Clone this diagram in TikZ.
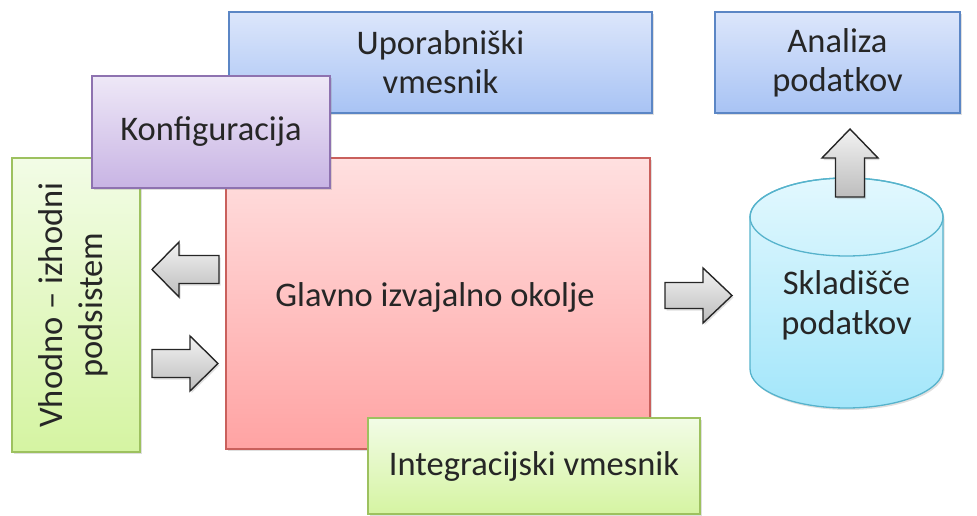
\documentclass[tikz,border=0pt]{standalone}
\usepackage{fontspec}
\setmainfont{Carlito}
\usetikzlibrary{shadows}
\definecolor{txt}{HTML}{262626}
\definecolor{blueline}{HTML}{5B86C5}
\definecolor{bluetop}{HTML}{DCE6FB}
\definecolor{bluebot}{HTML}{A8C3F4}
\definecolor{purpline}{HTML}{8E72B0}
\definecolor{purptop}{HTML}{EEE8F7}
\definecolor{purpbot}{HTML}{C8B4E4}
\definecolor{greenline}{HTML}{9DC15F}
\definecolor{greentop}{HTML}{F2FCE6}
\definecolor{greenbot}{HTML}{D5F4A2}
\definecolor{redline}{HTML}{C9605C}
\definecolor{redtop}{HTML}{FFE0E0}
\definecolor{redbot}{HTML}{FFA3A3}
\definecolor{cylline}{HTML}{56B3CC}
\definecolor{cyltop}{HTML}{E2F8FE}
\definecolor{cylbot}{HTML}{A3E6FA}
\definecolor{arrtop}{HTML}{F2F2F2}
\definecolor{arrbot}{HTML}{BDBDBD}
\begin{document}
\begin{tikzpicture}[x=1pt,y=-1pt,
  boxshadow/.style={drop shadow={opacity=0.25,shadow xshift=1.5pt,shadow yshift=-2pt}},
  box/.style={draw, line width=1.3pt, boxshadow, align=center, inner sep=0pt,
    font=\fontsize{34.5}{39}\selectfont, text=txt},
  lbl/.style={align=center, inner sep=0pt, font=\fontsize{34.5}{40}\selectfont, text=txt},
  bluebox/.style={box, draw=blueline, top color=bluetop, bottom color=bluebot},
  purpbox/.style={box, draw=purpline, top color=purptop, bottom color=purpbot},
  greenbox/.style={box, draw=greenline, top color=greentop, bottom color=greenbot},
  redbox/.style={box, draw=redline, top color=redtop, bottom color=redbot},
  blockarrow/.style={draw=black!85, line width=1.4pt, line join=miter, top color=arrtop, bottom color=arrbot,
    drop shadow={opacity=0.25,shadow xshift=1.5pt,shadow yshift=-2pt}},
  cylstyle/.style={draw=cylline, line width=1.3pt, top color=cyltop, bottom color=cylbot, boxshadow}
]
\useasboundingbox (0,0) rectangle (977,516);

% Uporabniski vmesnik
\node[bluebox, minimum width=423pt, minimum height=101pt] (ui) at (440.5,62.5) {Uporabniški\\vmesnik};

% Vhodno-izhodni podsistem
\node[greenbox, minimum width=128pt, minimum height=294pt] (io) at (76,305) {};
\node[lbl, rotate=90] (iotext) at (73,305) {Vhodno – izhodni\\podsistem};

% Glavno izvajalno okolje
\node[redbox, minimum width=424pt, minimum height=291pt] (main) at (438,303.5) {};
\node[lbl] (maintext) at (435,297) {Glavno izvajalno okolje};

% Konfiguracija
\node[purpbox, minimum width=238pt, minimum height=112pt] (cfg) at (211,132) {Konfiguracija};

% Integracijski vmesnik
\node[greenbox, minimum width=332pt, minimum height=96pt] (int) at (534,466) {Integracijski vmesnik};

% Analiza podatkov
\node[bluebox, minimum width=245pt, minimum height=101pt] (ana) at (837.5,62.5) {Analiza\\podatkov};

% Block arrows between main and io
\draw[blockarrow] (152,269.5) -- (179,242) -- (179,255.5) -- (219,255.5) -- (219,283.5) -- (179,283.5) -- (179,297) -- cycle;
\draw[blockarrow] (152,349.5) -- (190,349.5) -- (190,336) -- (218,363.5) -- (190,391) -- (190,377.5) -- (152,377.5) -- cycle;

% Arrow main -> storage
\draw[blockarrow] (665,282.5) -- (703,282.5) -- (703,268) -- (732,295.5) -- (703,323) -- (703,308.5) -- (665,308.5) -- cycle;

% Cylinder (Skladisce podatkov)
\draw[cylstyle] (750,217) -- (750,369) arc[start angle=180, end angle=0, x radius=96.5, y radius=39]
  -- (943,217) arc[start angle=0, end angle=-180, x radius=96.5, y radius=39] -- cycle;
\draw[draw=cylline, line width=1.3pt] (846.5,217) ellipse[x radius=96.5, y radius=39];
\node[lbl] (store) at (846.5,305) {Skladišče\\podatkov};

% Arrow storage -> analiza
\draw[blockarrow] (835.5,197) -- (835.5,158) -- (822,158) -- (850,129) -- (878,158) -- (864.5,158) -- (864.5,197) -- cycle;
\end{tikzpicture}
\end{document}
